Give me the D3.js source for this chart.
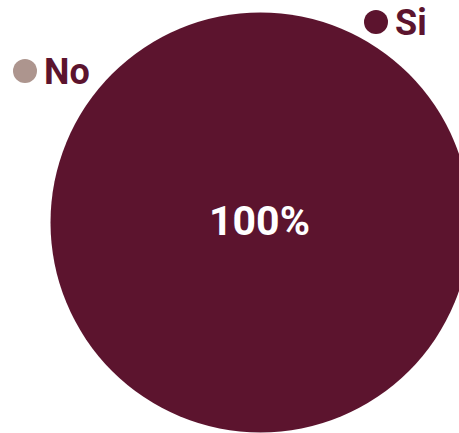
<!DOCTYPE html>
<html>
<head>
<meta charset="utf-8">
<script src="https://cdn.jsdelivr.net/npm/d3@7"></script>
<style>
  html, body { margin: 0; padding: 0; background: #fff; }
  svg { display: block; }
  text { font-family: Roboto, "Noto Sans", sans-serif; font-weight: 700; }
</style>
</head>
<body>
<svg id="chart" width="459" height="433"></svg>
<script>
const categories = ["Si", "No"];
const values = [100, 0];
const colors = ["#5c142e", "#ad958e"];

const W = 459, H = 433;
const cx = 260.5, cy = 222.5, R = 210;
const svg = d3.select("#chart");

const color = d3.scaleOrdinal().domain(categories).range(colors);
const data = categories.map((c, i) => ({ cat: c, value: values[i] }));
const total = d3.sum(values);

const pie = d3.pie().sort(null).value(d => d.value);
const arc = d3.arc().innerRadius(0).outerRadius(R);
const arcs = pie(data);

const g = svg.append("g").attr("transform", `translate(${cx},${cy})`);
g.selectAll("path").data(arcs).join("path")
  .attr("d", arc)
  .attr("fill", d => color(d.data.cat));

const full = d => d.endAngle - d.startAngle >= 2 * Math.PI - 1e-6;
g.selectAll("text.val").data(arcs.filter(d => d.data.value > 0)).join("text")
  .attr("class", "val")
  .attr("x", d => full(d) ? -1 : arc.centroid(d)[0])
  .attr("y", d => full(d) ? -2 : arc.centroid(d)[1])
  .attr("dy", "0.35em")
  .attr("text-anchor", "middle")
  .attr("fill", "#ffffff")
  .attr("font-size", 41)
  .text(d => d3.format(".0%")(d.data.value / total));

const labelPos = { "Si": [376, 22], "No": [25, 71] };
const lab = svg.selectAll("g.lab").data(data).join("g")
  .attr("class", "lab")
  .attr("transform", d => `translate(${labelPos[d.cat][0]},${labelPos[d.cat][1]})`);
lab.append("circle").attr("r", 12).attr("fill", d => color(d.cat));
lab.append("text")
  .attr("x", 19)
  .attr("dy", "0.36em")
  .attr("font-size", 36)
  .attr("fill", "#5c142e")
  .text(d => d.cat);
</script>
</body>
</html>
